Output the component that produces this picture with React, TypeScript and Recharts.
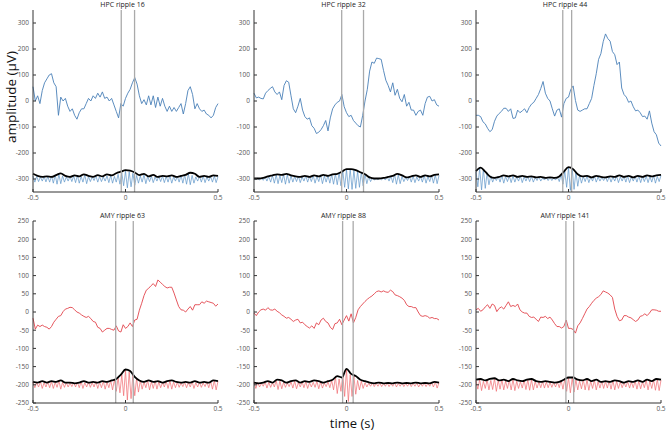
import React from 'react';
import { LineChart, Line, XAxis, YAxis, ReferenceLine } from 'recharts';

const HPC_TRACE = '#4a80b8';
const HPC_RIPPLE = '#5d95c9';
const AMY_TRACE = '#e2444c';
const AMY_RIPPLE = '#f06a70';
const FONT = '"Open Sans", "Liberation Sans", sans-serif';

const TITLES = ['HPC ripple 16', 'HPC ripple 32', 'HPC ripple 44', 'AMY ripple 63', 'AMY ripple 88', 'AMY ripple 141'];
const X_TICKS = [-0.5, 0, 0.5];
const HPC_Y_TICKS = [-300, -200, -100, 0, 100, 200, 300];
const AMY_Y_TICKS = [-250, -200, -150, -100, -50, 0, 50, 100, 150, 200, 250];

// ripple window edges (s)
const MARKS = [[-0.023, 0.049], [-0.026, 0.092], [-0.031, 0.017], [-0.053, 0.042], [-0.021, 0.036], [-0.014, 0.028]];

// raw LFP, every 12.5 ms from -0.5 to 0.5
const RAW_1 = [55, 0, 20, -10, 40, 70, 85, 100, 105, 70, 55, -55, 15, 0, 10, -20, -40, -30, -55, -70, -45, -30, -30, -10, 10, 0, 20, 10, 30, 15, 35, 10, 15, 0, 10, -15, -40, -65, -10, -20, 10, 30, 45, 70, 90, 65, 20, -10, 5, -15, 20, -15, 20, -25, 15, -20, 10, -20, -40, -20, -40, -25, -40, -25, -10, -50, -10, 40, 55, 25, -30, -10, -30, -40, -35, -50, -55, -65, -55, -25, -10];
const RAW_2 = [30, 12, 15, 10, 8, 30, 40, 48, 55, 35, 25, 35, 5, 60, 78, 72, 20, -30, -45, -20, 10, -35, -60, -70, -65, -95, -105, -125, -120, -110, -95, -75, -115, -65, -30, -15, -5, 0, 25, -22, -45, -60, -55, -75, -85, -95, -100, -55, 0, 45, 115, 150, 145, 165, 163, 160, 118, 80, 60, 35, 70, 22, 45, 10, -3, 25, -20, -5, -35, -35, -55, -40, -35, -55, -10, 15, 18, 0, 5, -15, -20];
const RAW_3 = [-55, -55, -60, -80, -88, -105, -118, -110, -78, -58, -48, -40, -28, -28, -40, -30, -67, -65, -35, -45, -38, -30, -45, -25, -12, -5, 10, 25, 48, 75, 30, 10, 0, -30, -58, -35, -30, -62, -10, 10, 15, 45, 58, 2, -35, -40, -35, -30, -30, -10, 10, 60, 105, 160, 182, 228, 258, 240, 230, 190, 178, 140, 150, 50, 25, 15, -5, 0, -22, -38, -35, -45, -60, -58, -70, -38, -85, -118, -130, -162, -173];
const RAW_4 = [-17, -47, -36, -40, -36, -40, -42, -47, -40, -28, -20, -12, -10, 1, 8, 10, 13, 12, 6, 0, -3, -8, -12, -15, -12, -18, -26, -28, -42, -45, -55, -50, -45, -45, -48, -50, -38, -52, -55, -35, -45, -40, -30, -40, -22, -20, 5, 24, 45, 60, 65, 72, 78, 70, 88, 82, 76, 70, 66, 68, 68, 52, 33, 15, 6, 5, 0, 8, 15, 5, 20, 20, 20, 28, 24, 30, 28, 26, 24, 16, 22];
const RAW_5 = [-3, -10, 0, 6, 8, 5, 12, 6, 5, 8, 2, -2, -8, -12, -17, -15, -20, -26, -22, -20, -30, -28, -35, -40, -44, -38, -45, -30, -35, -22, -17, -26, -30, -42, -48, -32, -30, -20, -35, -22, -10, -25, -5, -30, -15, 6, 15, 22, 29, 35, 40, 44, 50, 56, 58, 55, 58, 55, 54, 60, 56, 47, 45, 42, 38, 32, 20, 15, 15, 12, 12, 0, -10, -12, -10, -12, -17, -15, -18, -18, -22];
const RAW_6 = [6, 10, 2, 6, 14, 20, 10, 22, 18, 1, 10, 14, 8, 18, 28, 15, 18, 15, 22, 6, 0, -3, -3, -12, -15, -14, -20, -26, -14, -15, -12, -18, -14, -22, -32, -40, -40, -44, -40, -22, -45, -45, -48, -58, -38, -30, -18, -5, 8, 15, 24, 32, 38, 42, 48, 58, 55, 52, 47, 40, 8, -12, -24, -22, -10, -10, -14, -16, -21, -26, -22, -12, -10, -5, -10, -3, 6, 6, 5, 2, 2];

// ripple-band envelope, every 25 ms
const ENV_1 = [-280, -288, -292, -290, -292, -285, -278, -288, -292, -286, -290, -282, -288, -292, -285, -290, -282, -286, -278, -272, -266, -268, -275, -285, -280, -290, -284, -292, -288, -290, -286, -292, -288, -284, -276, -280, -292, -288, -292, -286, -288];
const ENV_2 = [-298, -298, -296, -290, -286, -282, -284, -280, -286, -290, -292, -288, -292, -286, -290, -284, -288, -282, -280, -272, -262, -262, -266, -274, -282, -294, -298, -298, -296, -292, -288, -280, -286, -294, -290, -286, -292, -286, -290, -284, -282];
const ENV_3 = [-270, -256, -272, -290, -296, -292, -286, -290, -286, -292, -288, -292, -290, -294, -292, -296, -294, -296, -290, -272, -254, -262, -282, -290, -288, -294, -288, -292, -294, -290, -292, -286, -292, -288, -294, -288, -292, -286, -290, -286, -284];
const ENV_4 = [-192, -194, -190, -194, -190, -192, -188, -194, -194, -196, -194, -190, -194, -192, -194, -190, -192, -188, -184, -172, -158, -162, -178, -188, -192, -188, -192, -190, -194, -190, -188, -192, -194, -192, -194, -190, -194, -192, -194, -188, -190];
const ENV_5 = [-194, -196, -194, -190, -194, -186, -188, -194, -190, -188, -194, -190, -192, -188, -190, -194, -190, -186, -176, -180, -156, -170, -176, -186, -190, -194, -196, -194, -196, -195, -196, -194, -196, -195, -196, -194, -196, -195, -196, -192, -194];
const ENV_6 = [-186, -184, -188, -184, -182, -188, -186, -190, -184, -188, -190, -186, -184, -190, -192, -190, -192, -194, -192, -186, -180, -180, -186, -188, -184, -190, -186, -192, -190, -192, -188, -190, -194, -190, -192, -188, -192, -186, -190, -184, -186];

// ripple-band signal, every 10 ms
const RIP_1 = [
  -288, -312, -290, -310, -292, -308, -291, -311, -290, -312,
  -288, -316, -284, -320, -282, -318, -288, -312, -292, -308,
  -290, -310, -288, -314, -286, -316, -290, -312, -284, -318,
  -290, -310, -292, -306, -288, -312, -290, -310, -292, -308,
  -288, -314, -286, -316, -290, -312, -282, -320, -276, -326,
  -270, -334, -272, -330, -278, -324, -286, -316, -288, -312,
  -284, -318, -290, -310, -288, -314, -292, -308, -290, -310,
  -288, -314, -290, -312, -288, -316, -292, -308, -290, -312,
  -286, -316, -284, -320, -280, -322, -286, -316, -292, -308,
  -290, -312, -288, -314, -292, -308, -290, -312, -288, -314,
  -290,
];
const RIP_2 = [
  -298, -302, -297, -303, -296, -305, -292, -308, -290, -312,
  -286, -316, -284, -318, -286, -314, -282, -320, -284, -316,
  -288, -312, -290, -310, -288, -314, -292, -308, -288, -312,
  -290, -310, -286, -316, -290, -310, -284, -318, -288, -312,
  -286, -316, -282, -320, -280, -322, -276, -326, -270, -332,
  -264, -338, -262, -340, -266, -336, -270, -332, -274, -326,
  -282, -318, -290, -310, -296, -304, -298, -302, -297, -303,
  -296, -304, -292, -308, -288, -314, -282, -320, -284, -318,
  -290, -310, -294, -306, -290, -312, -288, -314, -292, -308,
  -290, -312, -286, -316, -290, -310, -286, -316, -284, -318,
  -286,
];
const RIP_3 = [
  -272, -330, -258, -342, -262, -336, -276, -322, -288, -312,
  -294, -306, -290, -312, -286, -316, -290, -310, -288, -314,
  -288, -312, -292, -308, -288, -314, -292, -308, -290, -310,
  -290, -312, -294, -306, -292, -308, -296, -304, -294, -306,
  -294, -306, -296, -304, -292, -310, -282, -320, -270, -332,
  -256, -344, -260, -340, -272, -328, -284, -316, -290, -310,
  -288, -314, -292, -308, -288, -312, -292, -308, -294, -306,
  -292, -310, -290, -312, -292, -308, -288, -314, -292, -308,
  -290, -312, -288, -314, -292, -308, -290, -312, -288, -314,
  -290, -310, -288, -314, -290, -312, -286, -316, -290, -310,
  -286,
];
const RIP_4 = [
  -192, -208, -194, -206, -191, -210, -194, -206, -192, -208,
  -191, -210, -193, -207, -189, -212, -193, -207, -194, -206,
  -195, -205, -194, -206, -193, -208, -191, -210, -194, -206,
  -193, -207, -194, -206, -191, -210, -193, -208, -190, -212,
  -192, -208, -188, -214, -186, -218, -180, -222, -172, -230,
  -160, -242, -164, -238, -172, -230, -182, -220, -188, -212,
  -192, -208, -188, -214, -191, -210, -189, -212, -192, -208,
  -194, -206, -190, -210, -189, -212, -192, -208, -193, -207,
  -195, -205, -193, -208, -194, -206, -191, -210, -194, -206,
  -193, -207, -195, -205, -192, -208, -190, -212, -188, -214,
  -190,
];
const RIP_5 = [
  -192, -210, -194, -206, -196, -204, -192, -209, -193, -207,
  -194, -206, -188, -213, -190, -211, -193, -207, -195, -205,
  -192, -209, -190, -211, -194, -206, -192, -208, -191, -210,
  -194, -206, -193, -207, -190, -211, -192, -209, -195, -205,
  -192, -208, -188, -214, -178, -224, -184, -218, -172, -232,
  -158, -246, -172, -232, -176, -226, -188, -214, -190, -210,
  -194, -206, -196, -204, -195, -205, -196, -204, -195, -205,
  -196, -204, -195, -205, -196, -204, -194, -206, -196, -204,
  -195, -205, -196, -204, -195, -205, -196, -204, -195, -206,
  -196, -204, -195, -205, -196, -204, -194, -206, -192, -209,
  -194,
];
const RIP_6 = [
  -188, -212, -185, -216, -190, -210, -186, -214, -188, -213,
  -183, -218, -188, -212, -186, -214, -190, -210, -187, -214,
  -185, -216, -190, -210, -191, -209, -187, -213, -186, -215,
  -186, -214, -191, -209, -192, -208, -191, -209, -192, -208,
  -193, -207, -194, -206, -192, -208, -188, -212, -184, -218,
  -180, -222, -182, -220, -186, -214, -189, -211, -186, -214,
  -186, -215, -190, -210, -187, -214, -191, -209, -190, -210,
  -191, -209, -189, -212, -188, -214, -190, -210, -192, -208,
  -194, -206, -191, -209, -192, -208, -189, -212, -190, -211,
  -192, -208, -187, -214, -190, -210, -186, -215, -185, -216,
  -187,
];

const RAWS = [RAW_1, RAW_2, RAW_3, RAW_4, RAW_5, RAW_6];
const ENVS = [ENV_1, ENV_2, ENV_3, ENV_4, ENV_5, ENV_6];
const RIPS = [RIP_1, RIP_2, RIP_3, RIP_4, RIP_5, RIP_6];

const toSeries = (values: number[], step: number) =>
  values.map((v, i) => ({ t: Math.round((-0.5 + i * step) * 10000) / 10000, v }));

// layout (px)
const COL_X = [33, 254, 475.5];
const ROW_Y = [10, 221];
const PLOT_W = 185;
const PLOT_H = 182;
const Y_AXIS_W = 32;
const M_TOP = 6;
const M_RIGHT = 12;
const X_AXIS_H = 16;

const tickStyle = { fontSize: 6.5, fill: '#555', fontFamily: FONT };

function Panel({ idx }: { idx: number }) {
  const hpc = idx < 3;
  const col = idx % 3;
  const row = hpc ? 0 : 1;
  const traceColor = hpc ? HPC_TRACE : AMY_TRACE;
  const rippleColor = hpc ? HPC_RIPPLE : AMY_RIPPLE;
  const yTicks = hpc ? HPC_Y_TICKS : AMY_Y_TICKS;
  const domain = hpc ? [-350, 350] : [-250, 250];
  const left = COL_X[col] - Y_AXIS_W;
  const top = ROW_Y[row] - M_TOP;

  return (
    <>
      <div
        style={{
          position: 'absolute',
          left: COL_X[col] - 3,
          top: ROW_Y[row] - 10,
          width: PLOT_W,
          textAlign: 'center',
          fontSize: 7,
          fontFamily: FONT,
          color: '#222',
          lineHeight: '9px',
        }}
      >
        {TITLES[idx]}
      </div>
      <div style={{ position: 'absolute', left, top }}>
        <LineChart
          width={Y_AXIS_W + PLOT_W + M_RIGHT}
          height={M_TOP + PLOT_H + X_AXIS_H}
          margin={{ top: M_TOP, right: M_RIGHT, left: 0, bottom: 0 }}
        >
          <XAxis
            dataKey="t"
            type="number"
            domain={[-0.5, 0.5]}
            ticks={X_TICKS}
            allowDuplicatedCategory={false}
            tick={tickStyle}
            tickFormatter={(v) => String(v)}
            stroke="#333"
            tickSize={-3}
            tickMargin={6}
            height={X_AXIS_H}
          />
          <YAxis
            type="number"
            domain={domain}
            ticks={yTicks}
            tick={tickStyle}
            stroke="#333"
            tickSize={-3}
            tickMargin={7}
            width={Y_AXIS_W}
            allowDataOverflow
          />
          <Line data={toSeries(RAWS[idx], 0.0125)} dataKey="v" stroke={traceColor} strokeWidth={0.9} dot={false} isAnimationActive={false} />
          <Line data={toSeries(RIPS[idx], 0.01)} dataKey="v" stroke={rippleColor} strokeWidth={0.7} dot={false} isAnimationActive={false} />
          <Line data={toSeries(ENVS[idx], 0.025)} dataKey="v" type="monotone" stroke="#000" strokeWidth={1.8} dot={false} isAnimationActive={false} />
          {MARKS[idx].map((m, i) => (
            <ReferenceLine key={i} x={m} stroke="#aaa" strokeWidth={1.3} />
          ))}
        </LineChart>
      </div>
    </>
  );
}

export default function App() {
  return (
    <div style={{ position: 'absolute', left: 0, top: 0, width: 666, height: 430, background: '#fff', overflow: 'hidden' }}>
      {[0, 1, 2, 3, 4, 5].map((i) => (
        <Panel key={i} idx={i} />
      ))}
      <div
        style={{
          position: 'absolute',
          left: 11,
          top: 97,
          transform: 'translate(-50%, -50%) rotate(-90deg)',
          fontSize: 13.5,
          fontFamily: FONT,
          color: '#111',
          whiteSpace: 'nowrap',
        }}
      >
        amplitude (µV)
      </div>
      <div
        style={{
          position: 'absolute',
          left: 352,
          top: 423,
          transform: 'translate(-50%, -50%)',
          fontSize: 13,
          fontFamily: FONT,
          color: '#111',
          whiteSpace: 'nowrap',
          lineHeight: '13px',
        }}
      >
        time (s)
      </div>
    </div>
  );
}
